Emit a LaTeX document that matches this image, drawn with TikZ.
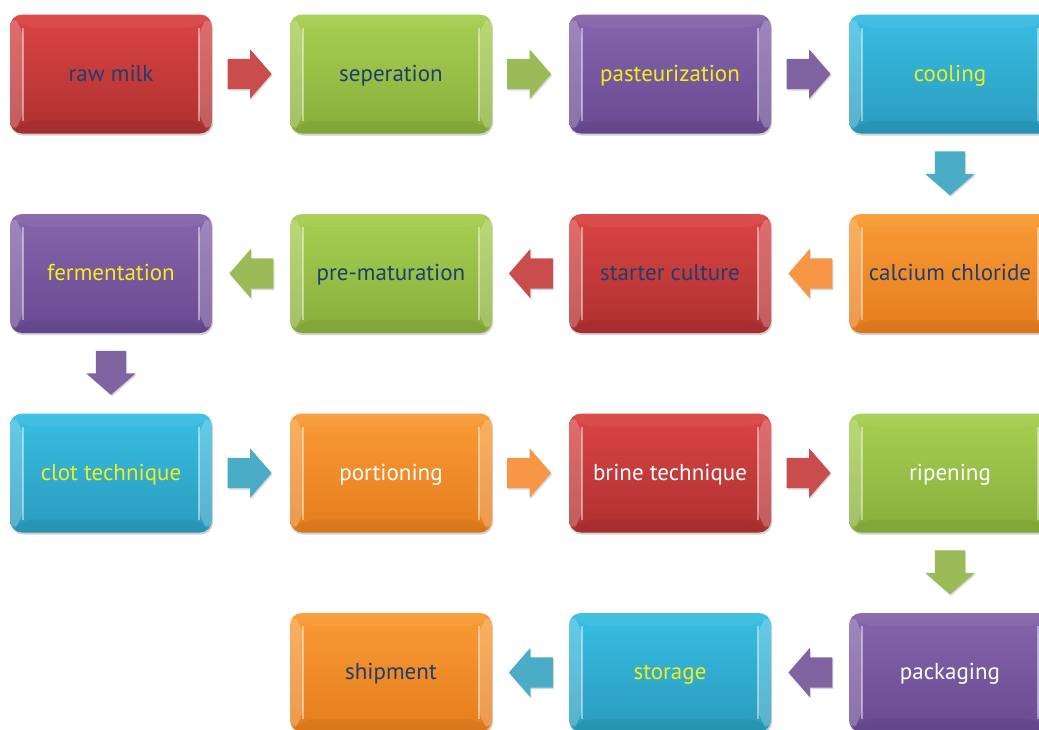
\documentclass[tikz,border=0pt]{standalone}
\usepackage{fontspec}
\setmainfont{PT Sans}
\usetikzlibrary{shapes.arrows,shadows,calc}
\definecolor{redT}{HTML}{DB4545}
\definecolor{redB}{HTML}{AE3030}
\definecolor{grnT}{HTML}{A7CF52}
\definecolor{grnB}{HTML}{88AE3B}
\definecolor{purT}{HTML}{8565AB}
\definecolor{purB}{HTML}{694A92}
\definecolor{cyaT}{HTML}{38BEE4}
\definecolor{cyaB}{HTML}{2A9BBC}
\definecolor{orgT}{HTML}{F99B36}
\definecolor{orgB}{HTML}{E57D1D}
\definecolor{redA}{HTML}{C94D4D}
\definecolor{grnA}{HTML}{9BBB59}
\definecolor{purA}{HTML}{8064A2}
\definecolor{cyaA}{HTML}{4BACC6}
\definecolor{orgA}{HTML}{F79646}
\definecolor{dkb}{HTML}{1F3D6E}
\definecolor{yel}{HTML}{F2EE1A}
\tikzset{
  box/.style={rounded corners=12pt, minimum width=202pt, minimum height=119pt,
    inner sep=0pt, font=\fontsize{23}{26}\selectfont, text height=19.5pt, text depth=5pt,
    drop shadow={opacity=0.35, shadow xshift=1pt, shadow yshift=-2pt},
    path picture={
      \coordinate (nw) at (path picture bounding box.north west);
      \coordinate (ne) at (path picture bounding box.north east);
      \coordinate (sw) at (path picture bounding box.south west);
      \coordinate (se) at (path picture bounding box.south east);
      \fill[white,opacity=0.22] (nw) -- ([xshift=13pt,yshift=-13pt]nw) -- ([xshift=13pt,yshift=13pt]sw) -- (sw) -- cycle;
      \fill[white,opacity=0.22] (ne) -- ([xshift=-13pt,yshift=-13pt]ne) -- ([xshift=-13pt,yshift=13pt]se) -- (se) -- cycle;
      \fill[white,opacity=0.05] (nw) -- (ne) -- ([xshift=-13pt,yshift=-13pt]ne) -- ([xshift=13pt,yshift=-13pt]nw) -- cycle;
      \fill[black,opacity=0.05] (sw) -- (se) -- ([xshift=-13pt,yshift=13pt]se) -- ([xshift=13pt,yshift=13pt]sw) -- cycle;
      \draw[white,opacity=0.45,line width=1.5pt] ([xshift=13pt,yshift=-13pt]nw) -- ([xshift=13pt,yshift=13pt]sw);
      \draw[white,opacity=0.45,line width=1.5pt] ([xshift=-13pt,yshift=-13pt]ne) -- ([xshift=-13pt,yshift=13pt]se);
    }},
  redbox/.style={box, top color=redT, bottom color=redB},
  grnbox/.style={box, top color=grnT, bottom color=grnB},
  purbox/.style={box, top color=purT, bottom color=purB},
  cyabox/.style={box, top color=cyaT, bottom color=cyaB},
  orgbox/.style={box, top color=orgT, bottom color=orgB},
  blockarrow/.style={single arrow, inner sep=15pt, minimum height=44pt,
    single arrow head extend=9.5pt, single arrow tip angle=98,
    drop shadow={opacity=0.3, shadow xshift=1pt, shadow yshift=-1.5pt}},
  rarr/.style={blockarrow, fill=#1, xshift=-8pt},
  larr/.style={blockarrow, fill=#1, shape border rotate=180, xshift=7pt},
  darr/.style={blockarrow, fill=#1, shape border rotate=270, yshift=7pt},
}
\begin{document}
\begin{tikzpicture}[x=1pt,y=-1pt]
\useasboundingbox (0,0) rectangle (1039,729);
\clip (0,0) rectangle (1039,729);
\fill[white] (0,0) rectangle (1039,729);
% row 1
\node[redbox, text=dkb] (n1) at (111,74) {raw milk};
\node[grnbox, text=dkb] (n2) at (391,74) {seperation};
\node[purbox, text=yel] (n3) at (670,74) {pasteurization};
\node[cyabox, text=yel] (n4) at (950,74) {cooling};
% row 2
\node[orgbox, text=dkb] (n5) at (950,273.5) {calcium chloride};
\node[redbox, text=dkb] (n6) at (670,273.5) {starter culture};
\node[grnbox, text=dkb] (n7) at (391,273.5) {pre-maturation};
\node[purbox, text=yel] (n8) at (111,273.5) {fermentation};
% row 3
\node[cyabox, text=yel] (n9) at (111,473) {clot technique};
\node[orgbox, text=white] (n10) at (391,473) {portioning};
\node[redbox, text=white] (n11) at (670,473) {brine technique};
\node[grnbox, text=white] (n12) at (950,473) {ripening};
% row 4
\node[purbox, text=white] (n13) at (950,672.5) {packaging};
\node[cyabox, text=yel] (n14) at (670,672.5) {storage};
\node[orgbox, text=dkb] (n15) at (391,672.5) {shipment};
% arrows
\node[rarr=redA] (a1) at ($(n1.east)!0.5!(n2.west)$) {};
\node[rarr=grnA] (a2) at ($(n2.east)!0.5!(n3.west)$) {};
\node[rarr=purA] (a3) at ($(n3.east)!0.5!(n4.west)$) {};
\node[darr=cyaA] (a4) at ($(n4.south)!0.5!(n5.north)$) {};
\node[larr=orgA] (a5) at ($(n5.west)!0.5!(n6.east)$) {};
\node[larr=redA] (a6) at ($(n6.west)!0.5!(n7.east)$) {};
\node[larr=grnA] (a7) at ($(n7.west)!0.5!(n8.east)$) {};
\node[darr=purA] (a8) at ($(n8.south)!0.5!(n9.north)$) {};
\node[rarr=cyaA] (a9) at ($(n9.east)!0.5!(n10.west)$) {};
\node[rarr=orgA] (a10) at ($(n10.east)!0.5!(n11.west)$) {};
\node[rarr=redA] (a11) at ($(n11.east)!0.5!(n12.west)$) {};
\node[darr=grnA] (a12) at ($(n12.south)!0.5!(n13.north)$) {};
\node[larr=purA] (a13) at ($(n13.west)!0.5!(n14.east)$) {};
\node[larr=cyaA] (a14) at ($(n14.west)!0.5!(n15.east)$) {};
\end{tikzpicture}
\end{document}
